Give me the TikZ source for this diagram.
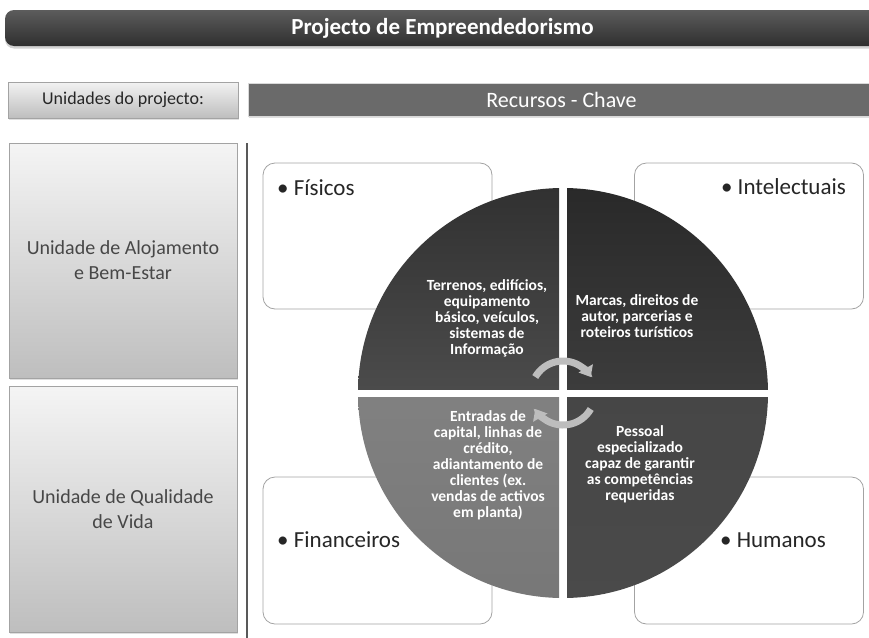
\documentclass[tikz,border=0pt]{standalone}
\usepackage{fontspec}
\setmainfont{Carlito}
\usepackage{tikz}
\usetikzlibrary{arrows.meta,shadows}

\definecolor{bar-top}{HTML}{5C5C5C}
\definecolor{bar-bottom}{HTML}{2F2F2F}
\definecolor{key-grey}{HTML}{6A6A6A}
\definecolor{pale-top}{HTML}{F2F2F2}
\definecolor{pale-bottom}{HTML}{BEBEBE}
\definecolor{edge-grey}{HTML}{A3A3A3}
\definecolor{ink}{HTML}{262626}
\definecolor{quad-tl}{HTML}{4B4B4B}
\definecolor{quad-tr}{HTML}{3C3C3C}
\definecolor{quad-bl}{HTML}{8C8C8C}
\definecolor{quad-br}{HTML}{575757}
\definecolor{cycle-grey}{HTML}{BDBDBD}

\begin{document}
\begin{tikzpicture}[x=1pt,y=-1pt]

  % Fix the page to the size of the slide.
  \useasboundingbox (0,0) rectangle (869,637);

  \tikzset{
    title-bar/.style={rectangle, rounded corners=9pt, inner sep=0pt,
      minimum width=875pt, minimum height=36pt,
      top color=bar-top, bottom color=bar-bottom, text=white,
      font=\fontsize{23}{27}\selectfont\bfseries,
      drop shadow={opacity=0.35, shadow xshift=0pt, shadow yshift=-2.5pt}},
    head-box/.style={rectangle, draw=edge-grey, inner sep=0pt,
      minimum width=230pt, minimum height=36pt,
      top color=pale-top, bottom color=pale-bottom, text=ink,
      font=\fontsize{18}{22}\selectfont,
      drop shadow={opacity=0.25, shadow xshift=1pt, shadow yshift=-1.5pt}},
    key-bar/.style={rectangle, fill=key-grey, draw=white!85!black, inner sep=0pt,
      minimum width=627pt, minimum height=33pt, text=white,
      font=\fontsize{22}{26}\selectfont,
      drop shadow={opacity=0.25, shadow xshift=1pt, shadow yshift=-2pt}},
    unit-box/.style={rectangle, draw=edge-grey, inner sep=0pt,
      minimum width=228pt, align=center,
      top color=pale-top!80!white, bottom color=pale-bottom, text=ink!85!white,
      font=\fontsize{20}{25}\selectfont,
      drop shadow={opacity=0.25, shadow xshift=1pt, shadow yshift=-1.5pt}},
    res-box/.style={rectangle, draw=edge-grey, fill=white, line width=0.8pt,
      rounded corners=12pt, minimum width=229pt, inner sep=0pt},
    res-label/.style={inner sep=0pt, text=ink, font=\fontsize{23}{27}\selectfont},
    quad-text/.style={inner sep=0pt, align=center, text=white,
      font=\fontsize{15.5}{16}\selectfont\bfseries},
    cycle-arrow/.style={draw=cycle-grey, line width=7pt,
      -{Triangle[width=16pt,length=10pt]}},
    divider/.style={draw=black!65, line width=2.5pt}
  }

  % Place the title bar.
  \node [title-bar] (title-bar) at (442.5,28) {Projecto de Empreendedorismo};

  % Place the column headers.
  \node [head-box] (units-head) at (123,100) {Unidades do projecto:};
  \node [key-bar] (key-head) at (561.5,99.5) {Recursos - Chave};

  % Place the two project units.
  \node [unit-box, minimum height=235pt] (unit-lodging) at (123,260.5)
    {Unidade de Alojamento\\e Bem-Estar};
  \node [unit-box, minimum height=246pt] (unit-life) at (123,509)
    {Unidade de Qualidade\\de Vida};

  % Place the divider between units and resources.
  \coordinate (rule-top) at (247,143);
  \coordinate (rule-bottom) at (247,640);
  \draw [divider] (rule-top) -- (rule-bottom);

  % Place the four resource boxes.
  \node [res-box, minimum height=146pt] (phys-box) at (377.5,236) {};
  \node [res-box, minimum height=146pt] (intel-box) at (749,236) {};
  \node [res-box, minimum height=147pt] (fin-box) at (377.5,550.5) {};
  \node [res-box, minimum height=147pt] (human-box) at (749,550.5) {};

  \node [res-label, anchor=base west] (phys-label) at (277,195) {• Físicos};
  \node [res-label, anchor=base east] (intel-label) at (846,194) {• Intelectuais};
  \node [res-label, anchor=base west] (fin-label) at (277,547) {• Financeiros};
  \node [res-label, anchor=base east] (human-label) at (826,547) {• Humanos};

  % Place the resource disc, cut in four quarters.
  \coordinate (hub) at (563,393);
  \begin{scope}
    \clip (hub) circle (205pt);
    \shade [top color=quad-tl!115!white, bottom color=quad-tl] (350,180) rectangle (559,389);
    \shade [top color=quad-tr!110!white, bottom color=quad-tr] (567,180) rectangle (776,389);
    \shade [top color=quad-bl!110!white, bottom color=quad-bl!85!black] (350,397) rectangle (559,606);
    \shade [top color=quad-br!110!white, bottom color=quad-br!85!black] (567,397) rectangle (776,606);
  \end{scope}

  \node [quad-text] (phys-text) at (487,318)
    {Terrenos, edifícios,\\equipamento\\básico, veículos,\\sistemas de\\Informação};
  \node [quad-text] (intel-text) at (637,316)
    {Marcas, direitos de\\autor, parcerias e\\roteiros turísticos};
  \node [quad-text] (fin-text) at (488,465)
    {Entradas de\\capital, linhas de\\crédito,\\adiantamento de\\clientes (ex.\\vendas de activos\\em planta)};
  \node [quad-text] (human-text) at (640,464)
    {Pessoal\\especializado\\capaz de garantir\\as competências\\requeridas};

  % Place the cycle arrows round the hub.
  \draw [cycle-arrow] ([shift={(150:32pt)}]hub) arc [start angle=150, end angle=30, radius=32pt];
  \draw [cycle-arrow] ([shift={(-30:32pt)}]hub) arc [start angle=-30, end angle=-150, radius=32pt];

\end{tikzpicture}
\end{document}
